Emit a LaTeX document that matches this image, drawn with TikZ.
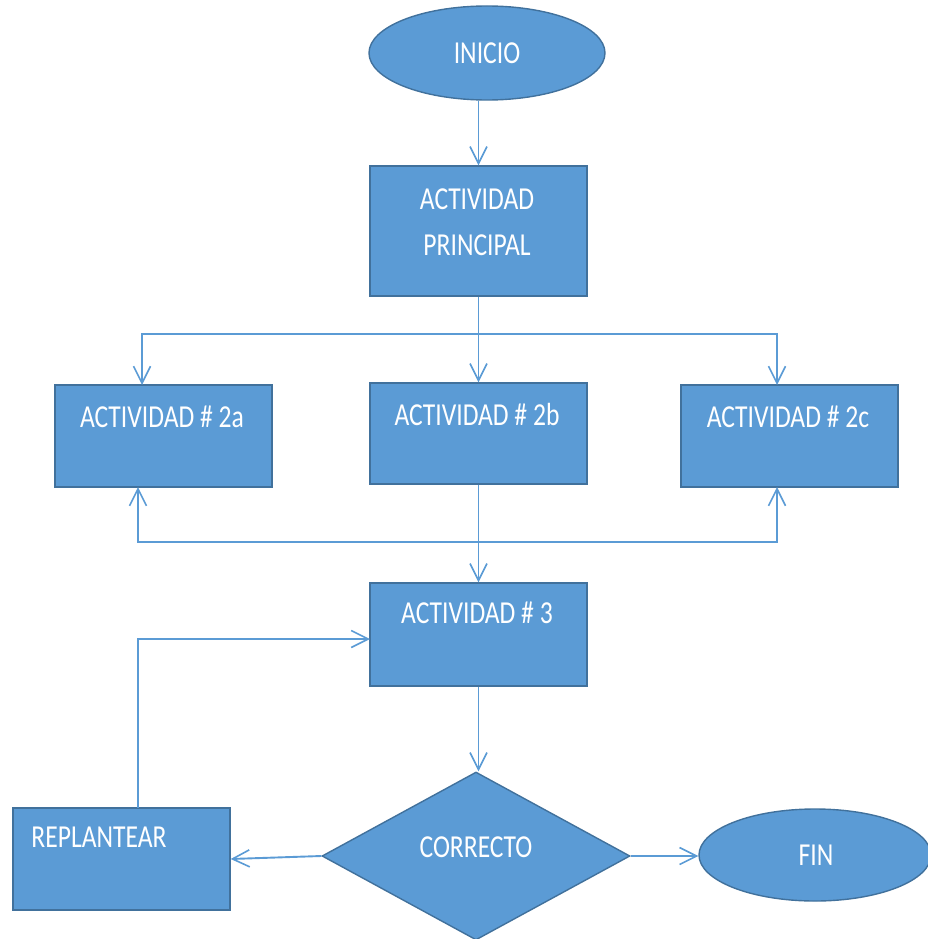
\documentclass[tikz,border=0pt]{standalone}
\usepackage{fontspec}
\usetikzlibrary{shapes.geometric,arrows.meta}
\newfontfamily\boxfont[FakeStretch=0.8]{Carlito}
\definecolor{flowfill}{HTML}{5B9BD5}
\definecolor{flowedge}{HTML}{41719C}
\begin{document}
\begin{tikzpicture}[x=1pt,y=-1pt,
  shapebase/.style={fill=flowfill,draw=flowedge,line width=1.4pt,inner sep=0pt},
  procbox/.style={shapebase,rectangle,minimum width=217pt},
  terminal/.style={shapebase,ellipse},
  decision/.style={shapebase,diamond,minimum width=308pt,minimum height=168pt},
  txt/.style={text=white,font=\boxfont\fontsize{32}{46}\selectfont,align=center,inner sep=0pt},
  conn/.style={draw=flowfill,line width=1.9pt,
    -{Straight Barb[length=17pt,width=17pt,line width=1.6pt]}}]
\useasboundingbox (0,0) rectangle (928,939);

% shapes
\node[terminal,minimum width=236pt,minimum height=94pt] (inicio) at (487,53) {};
\node[procbox,minimum height=130pt] (principal) at (478.5,231) {};
\node[procbox,minimum height=102pt] (a2) at (163.5,436) {};
\node[procbox,minimum height=101pt] (b2) at (478.5,433.5) {};
\node[procbox,minimum height=102pt] (c2) at (789.5,436) {};
\node[procbox,minimum height=103pt] (a3) at (478.5,634.5) {};
\node[decision] (dec) at (476,856) {};
\node[terminal,minimum width=232pt,minimum height=92pt] (fin) at (815,855) {};
\node[procbox,minimum height=102pt] (repl) at (121.5,859) {};

% labels
\node[txt] (inicio-t) at (487,53) {INICIO};
\node[txt] (principal-t) at (477,222) {ACTIVIDAD\\PRINCIPAL};
\node[txt] (a2-t) at (162,417) {ACTIVIDAD \# 2a};
\node[txt] (b2-t) at (477,414) {ACTIVIDAD \# 2b};
\node[txt] (c2-t) at (788,417) {ACTIVIDAD \# 2c};
\node[txt] (a3-t) at (477,613) {ACTIVIDAD \# 3};
\node[txt] (dec-t) at (476,847) {CORRECTO};
\node[txt] (fin-t) at (816,855) {FIN};
\node[txt] (repl-t) at (99,837) {REPLANTEAR};

% junction points
\coordinate (split) at (478.5,334);
\coordinate (a2top) at (142,385);
\coordinate (c2top) at (777,385);
\coordinate (join) at (478.5,542);
\coordinate (a2bot) at (138,487);
\coordinate (c2bot) at (777,487);
\coordinate (replout) at (138,808);
\coordinate (a3in) at (370,639);

% connectors
\draw[conn] (inicio.south -| principal.north) -- (principal.north);
\draw[conn] (principal.south) -- (b2.north);
\draw[conn] (split) -| (a2top);
\draw[conn] (split) -| (c2top);
\draw[conn] (b2.south) -- (a3.north);
\draw[conn] (join) -| (a2bot);
\draw[conn] (join) -| (c2bot);
\draw[conn] (a3.south) -- (a3.south |- dec.north);
\draw[conn] (dec.east) -- (dec.east -| fin.west);
\draw[conn] (dec.west) -- (repl.east);
\draw[conn] (replout) |- (a3in);
\end{tikzpicture}
\end{document}
